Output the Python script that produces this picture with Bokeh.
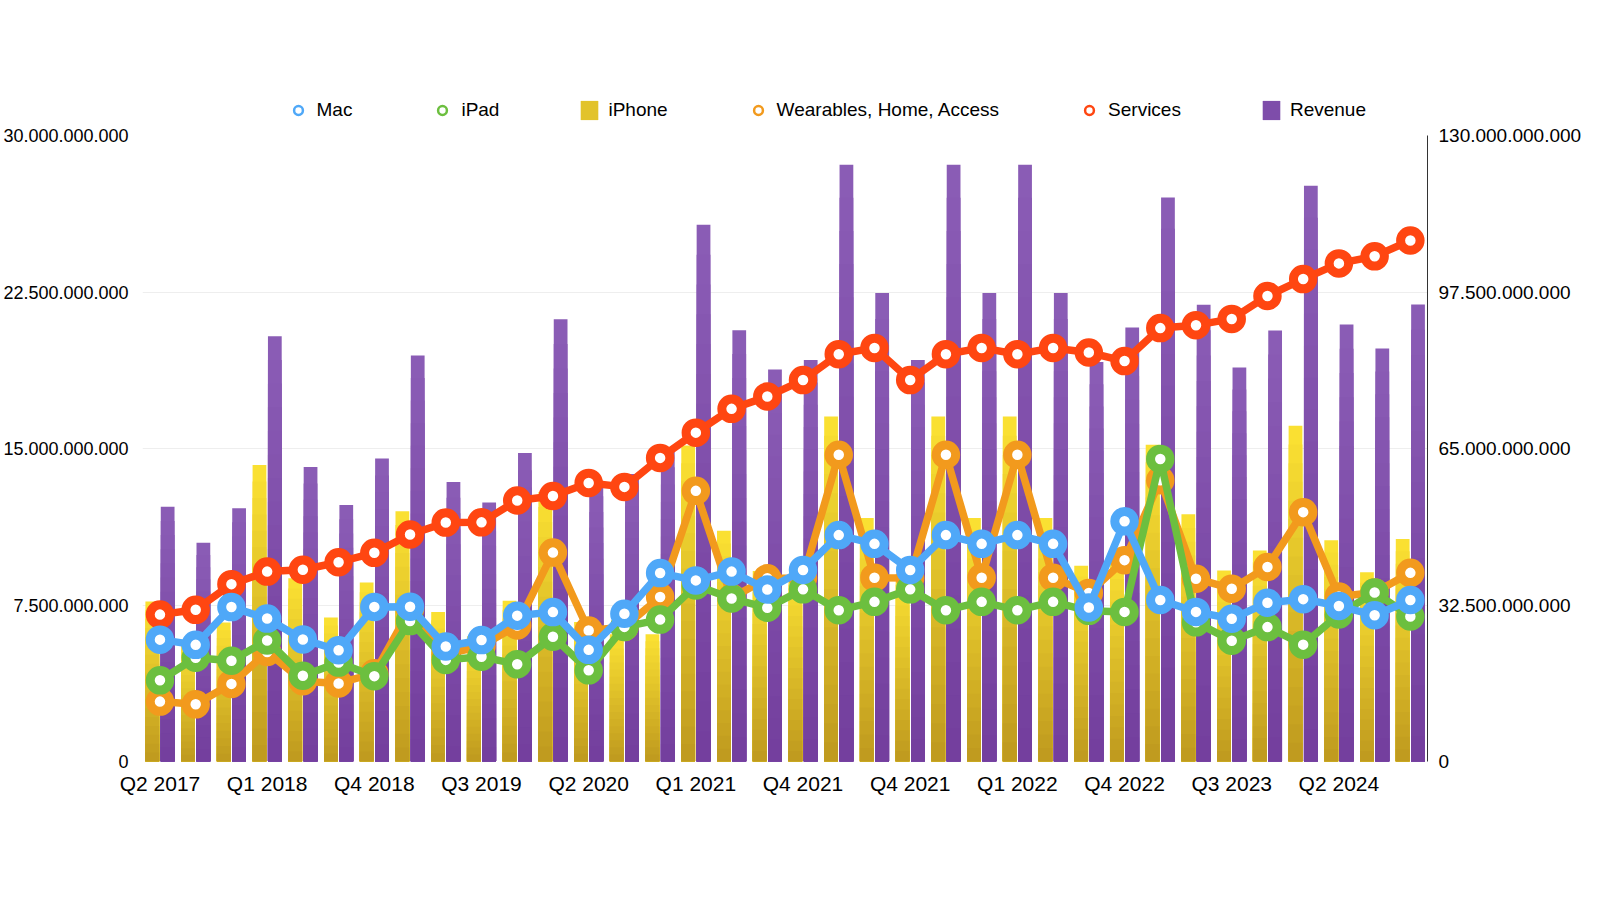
from bokeh.plotting import figure
from bokeh.layouts import column
from bokeh.models import ColumnDataSource, Range1d, LinearAxis, FixedTicker, Legend, LegendItem
from bokeh.transform import dodge
from bokeh.embed import file_html
from bokeh.resources import INLINE

# ---------------- data (billions of USD) ----------------
categories = ["Q2 2017", "Q3 2017", "Q4 2017", "Q1 2018", "Q2 2018", "Q3 2018", "Q4 2018",
              "Q1 2019", "Q2 2019", "Q3 2019", "Q4 2019", "Q1 2020", "Q2 2020", "Q3 2020",
              "Q4 2020", "Q1 2021", "Q2 2021", "Q3 2021", "Q4 2021", "Q1 2022", "Q2 2022",
              "Q4 2021", "Q1 2022", "Q2 2022", "Q1 2022", "Q2 2022", "Q3 2022", "Q4 2022",
              "Q1 2023", "Q2 2023", "Q3 2023", "Q4 2023", "Q1 2024", "Q2 2024", "Q3 2024",
              "Q4 2024"]

mac = [5.84, 5.59, 7.40, 6.85, 5.85, 5.33, 7.41, 7.42, 5.51, 5.82, 6.99, 7.16, 5.35, 7.08,
       9.03, 8.68, 9.10, 8.24, 9.18, 10.85, 10.43, 9.18, 10.85, 10.43, 10.85, 10.43, 7.38,
       11.51, 7.74, 7.17, 6.84, 7.61, 7.78, 7.45, 7.01, 7.74]

ipad = [3.89, 4.97, 4.83, 5.80, 4.11, 4.74, 4.09, 6.73, 4.87, 5.02, 4.66, 5.98, 4.37, 6.45,
        6.80, 8.44, 7.81, 7.37, 8.25, 7.25, 7.65, 8.25, 7.25, 7.65, 7.25, 7.65, 7.22, 7.17,
        14.50, 6.67, 5.79, 6.44, 5.60, 7.05, 8.10, 6.95]

wearables = [2.87, 2.74, 3.72, 5.25, 3.85, 3.74, 4.23, 7.31, 5.13, 5.53, 6.52, 10.01, 6.28,
             6.45, 7.88, 12.97, 7.84, 8.78, 8.79, 14.70, 8.81, 8.79, 14.70, 8.81, 14.70, 8.81,
             8.08, 9.65, 13.48, 8.76, 8.28, 9.32, 11.95, 7.91, 8.10, 9.04]

services = [7.04, 7.27, 8.50, 9.10, 9.19, 9.55, 10.00, 10.88, 11.45, 11.46, 12.51, 12.72,
            13.35, 13.16, 14.55, 15.76, 16.90, 17.49, 18.28, 19.52, 19.82, 18.28, 19.52,
            19.82, 19.52, 19.82, 19.60, 19.19, 20.77, 20.91, 21.21, 22.31, 23.12, 23.87,
            24.21, 24.97]

iphone = [33.25, 24.85, 28.85, 61.58, 38.03, 29.91, 37.19, 51.98, 31.05, 25.99, 33.36, 55.96,
          28.96, 26.42, 26.44, 65.60, 47.94, 39.57, 38.87, 71.63, 50.57, 38.87, 71.63, 50.57,
          71.63, 50.57, 40.67, 42.63, 65.78, 51.33, 39.67, 43.81, 69.70, 45.96, 39.30, 46.22]

revenue = [52.90, 45.41, 52.58, 88.29, 61.14, 53.27, 62.90, 84.31, 58.02, 53.81, 64.04, 91.82,
           58.31, 59.69, 64.70, 111.44, 89.58, 81.43, 83.36, 123.95, 97.28, 83.36, 123.95,
           97.28, 123.95, 97.28, 82.96, 90.15, 117.15, 94.84, 81.80, 89.50, 119.58, 90.75,
           85.78, 94.93]

left_ticks = [0, 7.5, 15, 22.5, 30]
right_ticks = [0, 32.5, 65, 97.5, 130]
x_tick_idx = list(range(0, len(categories), 3))

# ---------------- styling ----------------
FONT = "Liberation Sans"
C_MAC = "#4FA8F8"
C_IPAD = "#6CBF3F"
C_WEAR = "#F29A1D"
C_SERV = "#FF4611"
IPH_TOP, IPH_BOT = (252, 226, 51), (190, 153, 30)
REV_TOP, REV_BOT = (139, 93, 182), (115, 62, 157)


def fmt(v):
    return f"{int(round(v * 1e9)):,}".replace(",", ".")


def lerp(c_bot, c_top, f):
    r, g, b = (round(a + (t - a) * f) for a, t in zip(c_bot, c_top))
    return f"#{r:02x}{g:02x}{b:02x}"


W = 1584
LEG_H = 122
MAIN_H = 884 - LEG_H
BORDER_L, BORDER_R = 133, 149

# ---------------- legend strip ----------------
lf = figure(width=W, height=LEG_H, output_backend="svg", toolbar_location=None,
            x_range=Range1d(0, 1), y_range=Range1d(0, 1),
            min_border_left=0, min_border_right=0, min_border_top=0, min_border_bottom=0)
lf.axis.visible = False
lf.grid.visible = False
lf.outline_line_color = None
lf.background_fill_color = "white"
lf.border_fill_color = "white"

NAN = float("nan")


def dmark(col):
    return lf.scatter(x=[NAN], y=[NAN], size=9, line_width=2.5, line_color=col,
                      fill_color="white")


def dbar(col):
    return lf.vbar(x=[NAN], top=[NAN], width=1, fill_color=col, line_color=None)


items = [
    LegendItem(label="Mac", renderers=[dmark(C_MAC)]),
    LegendItem(label="iPad", renderers=[dmark(C_IPAD)]),
    LegendItem(label="iPhone", renderers=[dbar("#E2C32B")]),
    LegendItem(label="Wearables, Home, Access", renderers=[dmark(C_WEAR)]),
    LegendItem(label="Services", renderers=[dmark(C_SERV)]),
    LegendItem(label="Revenue", renderers=[dbar("#7E4DAA")]),
]
legend = Legend(items=items, orientation="horizontal", location=(144.5, 0),
                glyph_width=22, glyph_height=24, label_standoff=8, spacing=79,
                padding=0, margin=0, border_line_color=None, background_fill_alpha=0,
                label_text_font=FONT, label_text_font_size="19px",
                label_text_color="#000000")
lf.add_layout(legend, "center")

# ---------------- main chart ----------------
p = figure(width=W, height=MAIN_H, output_backend="svg", toolbar_location=None,
           x_range=Range1d(-0.489, 35.48), y_range=Range1d(0, 30),
           min_border_left=BORDER_L, min_border_right=BORDER_R, min_border_top=13,
           min_border_bottom=123)
p.extra_y_ranges = {"right": Range1d(0, 130)}
p.outline_line_color = None
p.background_fill_color = "white"
p.border_fill_color = "white"
p.xgrid.visible = False
p.ygrid.grid_line_color = "#EEEEEE"
p.ygrid.ticker = FixedTicker(ticks=left_ticks)

xs = list(range(len(categories)))

# gradient bars (right scale)
N = 18
bar_src = {"x": xs}
for k in range(N):
    frac = (N - k) / N
    bar_src[f"ip{k}"] = [v * frac for v in iphone]
    bar_src[f"rv{k}"] = [v * frac for v in revenue]
bars = ColumnDataSource(bar_src)
BW = 0.385
for k in range(N):
    f = (N - k - 0.5) / N
    p.vbar(x=dodge("x", 0.215), top=f"rv{k}", bottom=0, width=BW, source=bars,
           fill_color=lerp(REV_BOT, REV_TOP, f), line_color=None, y_range_name="right")
for k in range(N):
    f = (N - k - 0.5) / N
    p.vbar(x=dodge("x", -0.215), top=f"ip{k}", bottom=0, width=BW, source=bars,
           fill_color=lerp(IPH_BOT, IPH_TOP, f), line_color=None, y_range_name="right")

# lines (left scale)
for vals, col in [(services, C_SERV), (wearables, C_WEAR), (ipad, C_IPAD), (mac, C_MAC)]:
    s = ColumnDataSource(dict(x=xs, y=vals))
    p.line("x", "y", source=s, line_color=col, line_width=7.5, line_join="round")
    p.scatter("x", "y", source=s, size=19.5, line_width=9, line_color=col,
              fill_color="white")

# axes
yl = p.yaxis[0]
yl.ticker = FixedTicker(ticks=left_ticks)
yl.major_label_overrides = {t: fmt(t) for t in left_ticks}
yl.axis_line_color = None
yl.major_tick_line_color = None
yl.minor_tick_line_color = None
yl.major_label_standoff = 8
yl.major_label_text_font = FONT
yl.major_label_text_font_size = "18px"
yl.major_label_text_color = "#000000"

ra = LinearAxis(y_range_name="right", ticker=FixedTicker(ticks=right_ticks),
                major_label_overrides={t: fmt(t) for t in right_ticks})
ra.axis_line_color = "#333333"
ra.axis_line_width = 1
ra.major_tick_line_color = None
ra.minor_tick_line_color = None
ra.major_label_standoff = 5
ra.major_label_text_font = FONT
ra.major_label_text_font_size = "19px"
ra.major_label_text_color = "#000000"
p.add_layout(ra, "right")

xa = p.xaxis[0]
xa.ticker = FixedTicker(ticks=x_tick_idx)
xa.major_label_overrides = {i: categories[i] for i in x_tick_idx}
xa.axis_line_color = None
xa.major_tick_line_color = None
xa.minor_tick_line_color = None
xa.major_label_standoff = 4
xa.major_label_text_font = FONT
xa.major_label_text_font_size = "21px"
xa.major_label_text_color = "#000000"

layout = column(lf, p, spacing=0)
open("out.html", "w").write(file_html(layout, INLINE))
